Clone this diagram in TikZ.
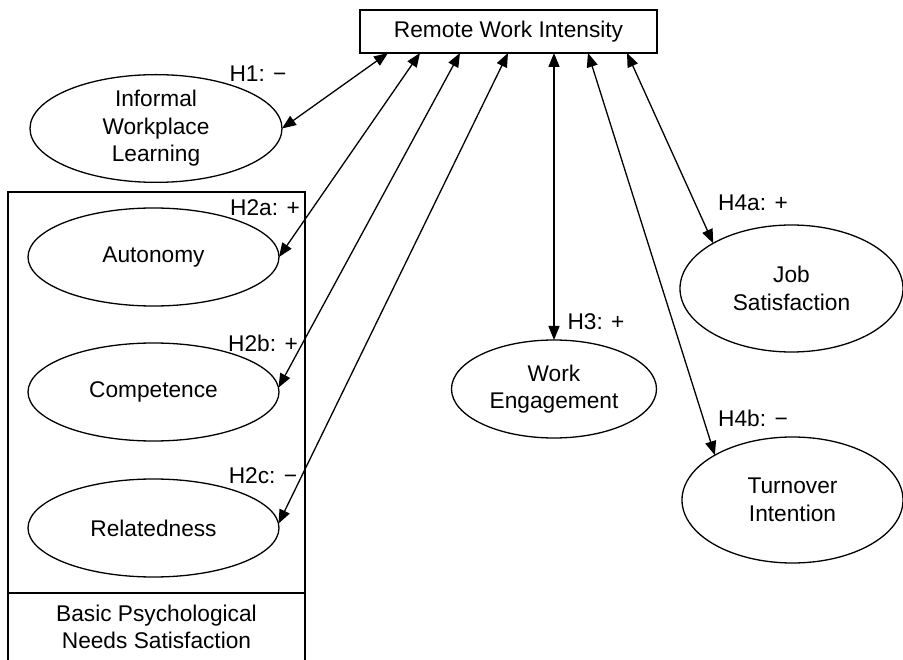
\documentclass[tikz,border=0pt]{standalone}
\usepackage{fontspec}
\setmainfont{Liberation Sans}
\usetikzlibrary{arrows.meta,shapes.geometric}
\begin{document}
\begin{tikzpicture}[x=1pt,y=-1pt,
  every node/.style={font=\fontsize{22.7}{27.5}\selectfont,align=center},
  lat/.style={ellipse,draw,line width=1.3pt,inner sep=0pt,outer sep=0pt},
  boxed/.style={draw,line width=1.3pt,inner sep=0pt,outer sep=0pt},
  link/.style={{Triangle[length=14pt,width=11pt]}-{Triangle[length=14pt,width=11pt]},line width=1.3pt},
  hyp/.style={inner sep=0pt}]
\useasboundingbox (0,0) rectangle (903,660);
\clip (0,0) rectangle (903,660);
% central construct
\node[boxed,minimum width=297pt,minimum height=43pt] (rwi) at (508.5,31.5) {Remote Work Intensity};
% left constructs
\node[lat,minimum width=252pt,minimum height=97pt] (iwl) at (156,128.5) {Informal\\Workplace\\Learning};
\node[boxed,minimum width=297pt,minimum height=490pt] (bpns) at (156.5,437) {};
\coordinate (divl) at (8,593);
\coordinate (divr) at (305,593);
\draw[line width=1.3pt] (divl) -- (divr);
\node (bpnsl) at (156.5,627) {Basic Psychological\\Needs Satisfaction};
\node[lat,minimum width=251pt,minimum height=98pt] (aut) at (153.5,257) {Autonomy};
\node[lat,minimum width=251pt,minimum height=98pt] (com) at (153.5,392) {Competence};
\node[lat,minimum width=251pt,minimum height=98pt] (rel) at (153.5,528) {Relatedness};
% right constructs
\node[lat,minimum width=205pt,minimum height=98pt] (we) at (554,389) {Work\\Engagement};
\node[lat,minimum width=223pt,minimum height=127pt] (js) at (791.5,288.5) {Job\\Satisfaction};
\node[lat,minimum width=221pt,minimum height=126pt] (ti) at (792.5,500) {Turnover\\Intention};
% hypothesis labels
\node[hyp] (h1) at (258,74) {H1: −};
\node[hyp] (h2a) at (265,208) {H2a: +};
\node[hyp] (h2b) at (263,343) {H2b: +};
\node[hyp] (h2c) at (263,476) {H2c: −};
\node[hyp] (h3) at (596,322) {H3: +};
\node[hyp] (h4a) at (753,203) {H4a: +};
\node[hyp] (h4b) at (753,418) {H4b: −};
% connectors
\draw[link] ([xshift=-120.5pt]rwi.south) -- (iwl.east);
\draw[link] ([xshift=-88.5pt]rwi.south) -- (aut.east);
\draw[link] ([xshift=-48.5pt]rwi.south) -- (com.2);
\draw[link] ([xshift=-0.5pt]rwi.south) -- (rel.2);
\draw[link] ([xshift=45.5pt]rwi.south) -- (we.north);
\draw[link] ([xshift=79.5pt]rwi.south) -- (ti.150);
\draw[link] ([xshift=118.5pt]rwi.south) -- (js.150);
\end{tikzpicture}
\end{document}
